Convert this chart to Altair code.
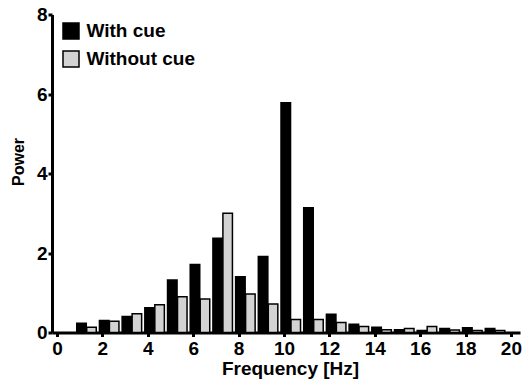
import altair as alt
import pandas as pd

# Spectral power per 1 Hz bin, two conditions
freqs = [1, 2, 3, 4, 5, 6, 7, 8, 9, 10, 11, 12, 13, 14, 15, 16, 17, 18, 19]
with_cue = [0.23, 0.30, 0.40, 0.62, 1.32, 1.71, 2.37, 1.40, 1.91, 5.78, 3.14,
            0.46, 0.21, 0.13, 0.07, 0.05, 0.10, 0.12, 0.10]
without_cue = [0.13, 0.28, 0.47, 0.70, 0.90, 0.84, 3.00, 0.97, 0.72, 0.33, 0.33,
               0.25, 0.15, 0.07, 0.10, 0.15, 0.06, 0.05, 0.05]
series_names = ["With cue", "Without cue"]
series_colors = ["#000000", "#d3d3d3"]

rows = []
for i, f in enumerate(freqs):
    rows.append({"freq": f, "power": with_cue[i], "cond": series_names[0], "slot": 0})
    rows.append({"freq": f, "power": without_cue[i], "cond": series_names[1], "slot": 1})
df = pd.DataFrame(rows)

FONT = "Liberation Sans"

bars = (
    alt.Chart(df)
    .transform_calculate(
        x0="datum.freq - 0.13 + datum.slot * 0.44",
        x1="datum.freq + 0.29 + datum.slot * 0.44",
    )
    .mark_bar(stroke="black", strokeWidth=1.5)
    .encode(
        x=alt.X(
            "x0:Q",
            scale=alt.Scale(domain=[-0.22, 20.4], nice=False, zero=False),
            axis=alt.Axis(
                values=list(range(0, 21, 2)),
                title="Frequency [Hz]",
                titleX=238,
                titleY=36,
                titleBaseline="middle",
                titleFontSize=19,
                labelFontSize=19,
                labelPadding=3,
                format="d",
            ),
        ),
        x2="x1:Q",
        y=alt.Y(
            "power:Q",
            scale=alt.Scale(domain=[0, 8], nice=False),
            axis=alt.Axis(
                values=[0, 2, 4, 6, 8],
                title="Power",
                titleX=-34,
                titleY=147,
                titleBaseline="middle",
                titleAlign="center",
                titleFontSize=16,
                labelFontSize=19,
                labelPadding=1,
                format="d",
            ),
        ),
        y2=alt.datum(0),
        fill=alt.Fill(
            "cond:N",
            scale=alt.Scale(domain=series_names, range=series_colors),
            legend=alt.Legend(
                title=None,
                orient="none",
                legendX=9.5,
                legendY=7,
                symbolType="square",
                symbolSize=256,
                symbolStrokeColor="black",
                symbolStrokeWidth=1.5,
                labelFontSize=19,
                labelFont=FONT,
                labelFontWeight="bold",
                labelOffset=6,
                rowPadding=5,
                padding=0,
            ),
        ),
    )
)

chart = (
    bars.properties(
        width=468,
        height=318,
        autosize=alt.AutoSizeParams(type="none"),
        padding={"left": 52, "top": 14.5, "right": 2, "bottom": 52.5},
    )
    .configure_view(stroke=None)
    .configure_axis(
        domainColor="black",
        domainWidth=3,
        tickColor="black",
        tickWidth=3,
        tickSize=4,
        grid=False,
        labelFont=FONT,
        labelFontWeight="bold",
        labelColor="black",
        titleFont=FONT,
        titleFontWeight="bold",
        titleColor="black",
    )
)

chart.save("out.html", embed_options={"renderer": "svg", "actions": False})
